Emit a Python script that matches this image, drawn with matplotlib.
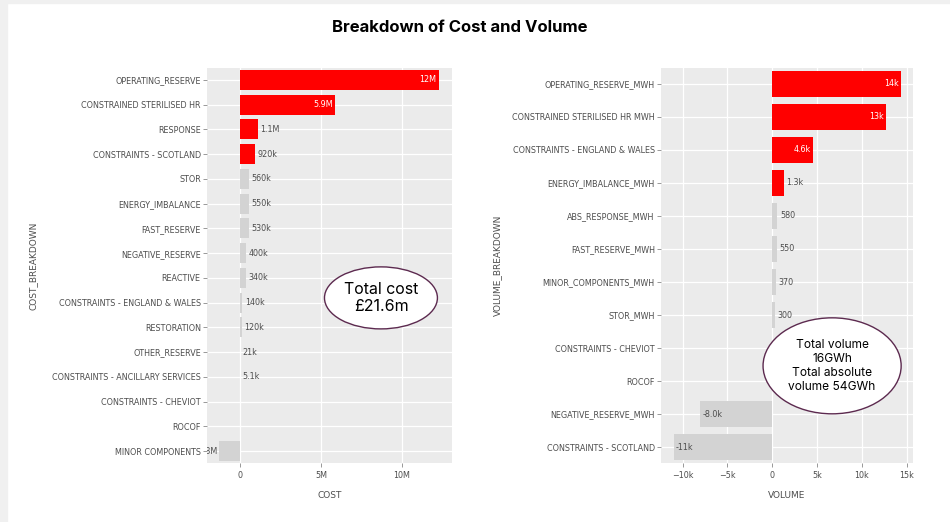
import matplotlib.pyplot as plt
from matplotlib.patches import Ellipse, Rectangle

# Cost breakdown (GBP)
cost_categories = [
    "OPERATING_RESERVE", "CONSTRAINED STERILISED HR", "RESPONSE",
    "CONSTRAINTS - SCOTLAND", "STOR", "ENERGY_IMBALANCE", "FAST_RESERVE",
    "NEGATIVE_RESERVE", "REACTIVE", "CONSTRAINTS - ENGLAND & WALES",
    "RESTORATION", "OTHER_RESERVE", "CONSTRAINTS - ANCILLARY SERVICES",
    "CONSTRAINTS - CHEVIOT", "ROCOF", "MINOR COMPONENTS",
]
cost_values = [12.3e6, 5.9e6, 1.1e6, 920e3, 560e3, 550e3, 530e3, 400e3,
               340e3, 140e3, 120e3, 21e3, 5.1e3, 0, 0, -1.3e6]

# Volume breakdown (MWh)
volume_categories = [
    "OPERATING_RESERVE_MWH", "CONSTRAINED STERILISED HR MWH",
    "CONSTRAINTS - ENGLAND & WALES", "ENERGY_IMBALANCE_MWH",
    "ABS_RESPONSE_MWH", "FAST_RESERVE_MWH", "MINOR_COMPONENTS_MWH",
    "STOR_MWH", "CONSTRAINTS - CHEVIOT", "ROCOF", "NEGATIVE_RESERVE_MWH",
    "CONSTRAINTS - SCOTLAND",
]
volume_values = [14.4e3, 12.7e3, 4.6e3, 1.3e3, 580, 550, 370, 300, 0, 0,
                 -8.0e3, -11.0e3]

cost_ticks = [0, 5e6, 10e6]
cost_ticklabels = ["0", "5M", "10M"]
volume_ticks = [-10e3, -5e3, 0, 5e3, 10e3, 15e3]
volume_ticklabels = ["\u221210k", "\u22125k", "0", "5k", "10k", "15k"]

RED = "#ff0000"
GREY = "#d3d3d3"
TXT = "#4d4d4d"


def si2(v):
    """Two significant figures with an SI suffix, e.g. 920k, 5.9M, -8.0k."""
    if v == 0:
        return ""
    a = abs(v)
    for div, suf in ((1e6, "M"), (1e3, "k"), (1, "")):
        if a >= div:
            x = v / div
            break
    if abs(x) >= 10:
        s = f"{x:.0f}"
    else:
        s = f"{x:.1f}"
    return s + suf


def draw_panel(ax, cats, vals, xlim, ticks, ticklabels, inside_min, xlabel, ylabel):
    ax.set_facecolor("#ebebeb")
    n = len(cats)
    ys = list(range(n))[::-1]
    top = sorted(vals, reverse=True)[:4]
    colors = [RED if v in top and v > 0 else GREY for v in vals]
    ax.barh(ys, vals, height=0.8, color=colors, zorder=3)
    ax.set_xlim(*xlim)
    ax.set_ylim(-0.48, n - 0.52)
    ax.set_yticks(ys)
    ax.set_yticklabels(cats, fontsize=5.8, color=TXT)
    ax.set_xticks(ticks)
    ax.set_xticklabels(ticklabels, fontsize=5.8, color=TXT)
    ax.tick_params(axis="y", length=3, width=0.6, color="#888888", pad=1.5)
    ax.tick_params(axis="x", length=3, width=0.6, color="#888888", pad=3)
    ax.grid(True, color="white", linewidth=0.9, zorder=0)
    ax.set_axisbelow(True)
    for s in ax.spines.values():
        s.set_visible(False)
    ax.set_xlabel(xlabel, fontsize=6.5, color=TXT, labelpad=8)
    ax.set_ylabel(ylabel, fontsize=6.5, color=TXT)

    span = xlim[1] - xlim[0]
    off = span * 0.01
    for y, v in zip(ys, vals):
        lab = si2(v)
        if not lab:
            continue
        if v > 0 and v >= inside_min:
            ax.text(v - off, y, lab, ha="right", va="center", fontsize=5.8,
                    color="white", zorder=4)
        elif v > 0:
            ax.text(v + off, y, lab, ha="left", va="center", fontsize=5.8,
                    color=TXT, zorder=4)
        elif -v >= inside_min:
            ax.text(v + off, y, lab, ha="left", va="center", fontsize=5.8,
                    color=TXT, zorder=4)
        else:
            # small negative bar: label sits left of the bar, cut at the axes edge
            ax.text(v - off * 0.6, y, lab, ha="right", va="center", fontsize=5.8,
                    color=TXT, zorder=4, clip_on=True)


fig = plt.figure(figsize=(9.5, 5.22), dpi=100)
fig.patch.set_facecolor("white")
# light grey page edges
fig.add_artist(Rectangle((0, 0), 7 / 950, 1, transform=fig.transFigure,
                         color="#f0f0f0", zorder=0))
fig.add_artist(Rectangle((0, 1 - 3 / 522), 1, 3 / 522, transform=fig.transFigure,
                         color="#f0f0f0", zorder=0))

ax1 = fig.add_axes([207 / 950, 1 - 463 / 522, 245 / 950, 395 / 522])
ax2 = fig.add_axes([661 / 950, 1 - 463 / 522, 252 / 950, 395 / 522])

draw_panel(ax1, cost_categories, cost_values, (-2.04e6, 13.1e6), cost_ticks,
           cost_ticklabels, 3e6, "COST", "COST_BREAKDOWN")
draw_panel(ax2, volume_categories, volume_values, (-12.4e3, 15.7e3), volume_ticks,
           volume_ticklabels, 3e3, "VOLUME", "VOLUME_BREAKDOWN")
ax1.yaxis.set_label_coords(-0.69, 0.5)
ax2.yaxis.set_label_coords(-0.63, 0.5)

total_cost = sum(cost_values)
total_vol = sum(volume_values)
total_abs_vol = sum(abs(v) for v in volume_values)

ax1.add_patch(Ellipse((0.710, 0.418), 0.461, 0.157, transform=ax1.transAxes,
                      facecolor="white", edgecolor="#5c2a4f", linewidth=1.0, zorder=5))
ax1.text(0.710, 0.418, f"Total cost\n\u00a3{total_cost / 1e6:.1f}m",
         transform=ax1.transAxes, ha="center", va="center", fontsize=11.5,
         family="Inter", linespacing=1.12, zorder=6)

ax2.add_patch(Ellipse((0.679, 0.246), 0.548, 0.243, transform=ax2.transAxes,
                      facecolor="white", edgecolor="#5c2a4f", linewidth=1.0, zorder=5))
ax2.text(0.679, 0.246,
         f"Total volume\n{total_vol / 1e3:.0f}GWh\nTotal absolute\nvolume {total_abs_vol / 1e3:.0f}GWh",
         transform=ax2.transAxes, ha="center", va="center", fontsize=8.6,
         family="Inter", linespacing=1.22, zorder=6)

fig.text(460 / 950, 1 - 27 / 522, "Breakdown of Cost and Volume", ha="center",
         va="center", fontsize=12, fontweight="bold", family="Inter")

fig.savefig("out.png", dpi=100)
plt.close(fig)
